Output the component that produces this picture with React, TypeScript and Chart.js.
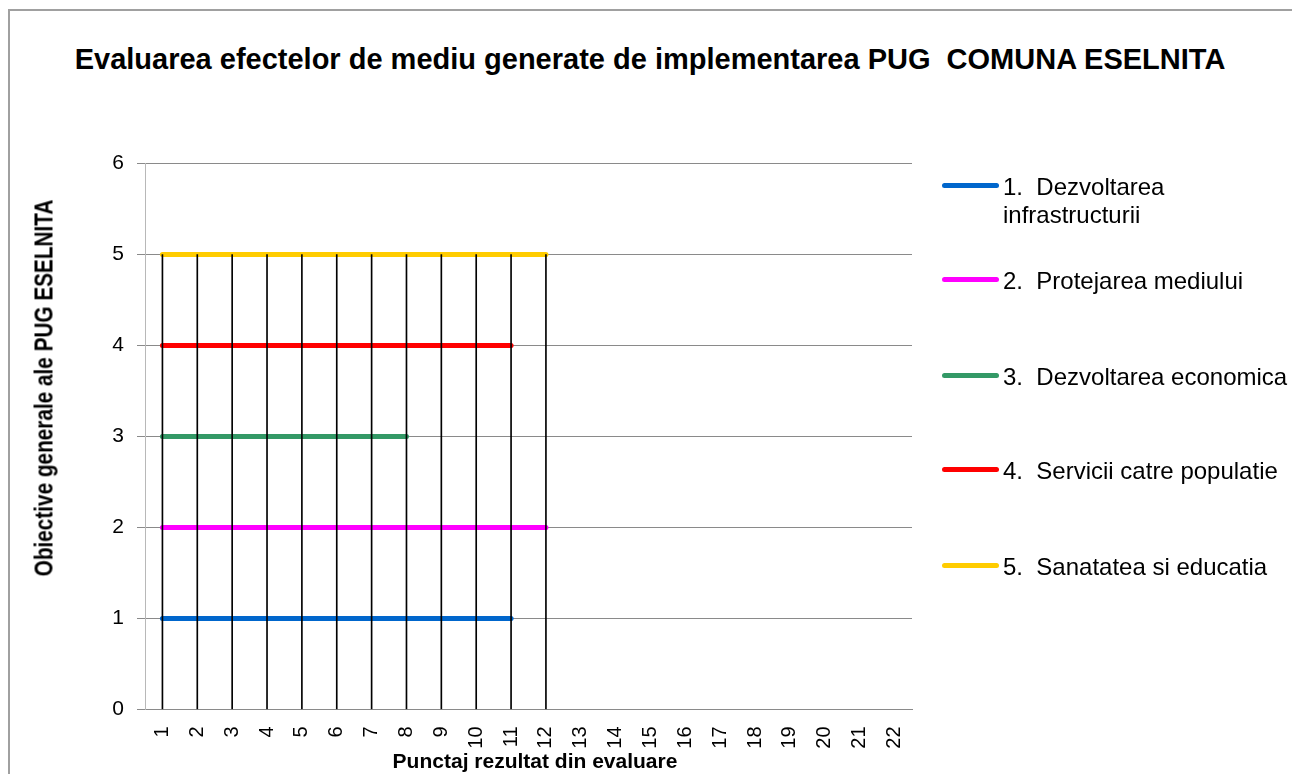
import React, { useEffect, useRef } from 'react';
import { Chart, registerables } from 'chart.js';

Chart.register(...registerables);

const categories = ['1', '2', '3', '4', '5', '6', '7', '8', '9', '10', '11', '12', '13', '14', '15', '16', '17', '18', '19', '20', '21', '22'];
const yTicks = [0, 1, 2, 3, 4, 5, 6];

const seriesNames = [
  '1.  Dezvoltarea\ninfrastructurii',
  '2.  Protejarea mediului',
  '3.  Dezvoltarea economica',
  '4.  Servicii catre populatie',
  '5.  Sanatatea si educatia',
];
const seriesColors = ['#0066CC', '#FF00FF', '#339966', '#FF0000', '#FFCC00'];

const infrastructuraValues = [1, 1, 1, 1, 1, 1, 1, 1, 1, 1, 1];
const mediuValues = [2, 2, 2, 2, 2, 2, 2, 2, 2, 2, 2, 2];
const economieValues = [3, 3, 3, 3, 3, 3, 3, 3];
const serviciiValues = [4, 4, 4, 4, 4, 4, 4, 4, 4, 4, 4];
const sanatateValues = [5, 5, 5, 5, 5, 5, 5, 5, 5, 5, 5, 5];

const seriesValues = [infrastructuraValues, mediuValues, economieValues, serviciiValues, sanatateValues];

const titleText = 'Evaluarea efectelor de mediu generate de implementarea PUG  COMUNA ESELNITA';
const yTitle = 'Obiective generale ale PUG ESELNITA';
const xTitle = 'Punctaj rezultat din evaluare';

// legend swatch centre y (page px) for each series
const legendY = [185.5, 279, 375, 469, 565];

const SANS = '"Liberation Sans", Arial, sans-serif';

export default function App() {
  const ref = useRef<HTMLCanvasElement | null>(null);

  useEffect(() => {
    if (!ref.current) return;
    const dropLines = categories.map((_, i) => {
      const vals = seriesValues.map((s) => s[i]).filter((v) => v !== undefined) as number[];
      return vals.length ? [0, Math.max(...vals)] : null;
    });

    const lineSets = seriesValues.map((vals, i) => ({
      type: 'line' as const,
      label: seriesNames[i],
      data: vals,
      borderColor: seriesColors[i],
      backgroundColor: seriesColors[i],
      borderWidth: 5,
      borderCapStyle: 'round' as const,
      pointRadius: 0,
      tension: 0,
      order: 1,
    }));

    const chart = new Chart(ref.current, {
      type: 'bar',
      data: {
        labels: categories,
        datasets: [
          ...lineSets,
          {
            type: 'bar' as const,
            label: 'drop',
            data: dropLines as any,
            backgroundColor: '#000000',
            borderWidth: 0,
            barThickness: 1,
            order: 0,
          } as any,
        ],
      },
      options: {
        responsive: false,
        animation: false,
        devicePixelRatio: 1,
        layout: { padding: { left: 0, right: 380, top: 163.5, bottom: 0 } },
        plugins: {
          legend: { display: false },
          tooltip: { enabled: false },
          title: { display: false },
        },
        scales: {
          x: {
            type: 'category',
            offset: true,
            grid: { display: false, drawTicks: false },
            border: { display: true, color: '#8a8a8a', width: 1 },
            ticks: {
              autoSkip: false,
              minRotation: 90,
              maxRotation: 90,
              padding: 17,
              color: '#000',
              font: { family: SANS, size: 20 },
            },
            title: { display: false },
            afterFit: (scale: any) => {
              scale.height = 64.5;
            },
          },
          y: {
            min: 0,
            max: 6,
            afterBuildTicks: (scale: any) => {
              scale.ticks = yTicks.map((v) => ({ value: v }));
            },
            grid: { color: '#8a8a8a', tickLength: 8, lineWidth: 1 },
            border: { display: true, color: '#b8b8b8', width: 1 },
            ticks: {
              padding: 13,
              color: '#000',
              font: { family: SANS, size: 21 },
            },
            title: { display: false },
            afterFit: (scale: any) => {
              scale.width = 145;
            },
          },
        },
      } as any,
    });
    return () => chart.destroy();
  }, []);

  return (
    <div
      style={{
        position: 'fixed',
        left: 0,
        top: 0,
        width: 1292,
        height: 774,
        overflow: 'hidden',
        background: '#fff',
      }}
    >
      <div
        style={{
          position: 'absolute',
          left: 8,
          top: 9,
          width: 1400,
          height: 900,
          borderLeft: '2px solid #a0a0a0',
          borderTop: '2px solid #a0a0a0',
          boxSizing: 'border-box',
        }}
      />
      <div
        style={{
          position: 'absolute',
          left: 650,
          top: 59,
          transform: 'translate(-50%, -50%)',
          whiteSpace: 'pre',
          fontFamily: SANS,
          fontWeight: 'bold',
          fontSize: 29,
          lineHeight: 1,
          color: '#000',
        }}
      >
        {titleText}
      </div>
      <canvas ref={ref} width={1292} height={774} style={{ position: 'absolute', left: 0, top: 0, width: 1292, height: 774 }} />
      <div
        style={{
          position: 'absolute',
          left: 44,
          top: 387.5,
          transform: 'translate(-50%, -50%) rotate(-90deg) scaleX(0.83)',
          whiteSpace: 'pre',
          fontFamily: SANS,
          fontWeight: 'bold',
          fontSize: 25,
          lineHeight: 1,
          color: '#000',
        }}
      >
        {yTitle}
      </div>
      <div
        style={{
          position: 'absolute',
          left: 535,
          top: 759.5,
          transform: 'translate(-50%, -50%)',
          whiteSpace: 'pre',
          fontFamily: SANS,
          fontWeight: 'bold',
          fontSize: 21,
          lineHeight: 1,
          color: '#000',
        }}
      >
        {xTitle}
      </div>
      {seriesNames.map((name, i) => (
        <React.Fragment key={i}>
          <div
            style={{
              position: 'absolute',
              left: 942,
              top: legendY[i] - 2.5,
              width: 57,
              height: 5,
              borderRadius: 3,
              background: seriesColors[i],
            }}
          />
          <div
            style={{
              position: 'absolute',
              left: 1003,
              top: legendY[i] - 12.3,
              whiteSpace: 'pre',
              fontFamily: SANS,
              fontSize: 24,
              lineHeight: '28px',
              letterSpacing: '0px',
              color: '#000',
            }}
          >
            {name}
          </div>
        </React.Fragment>
      ))}
    </div>
  );
}
